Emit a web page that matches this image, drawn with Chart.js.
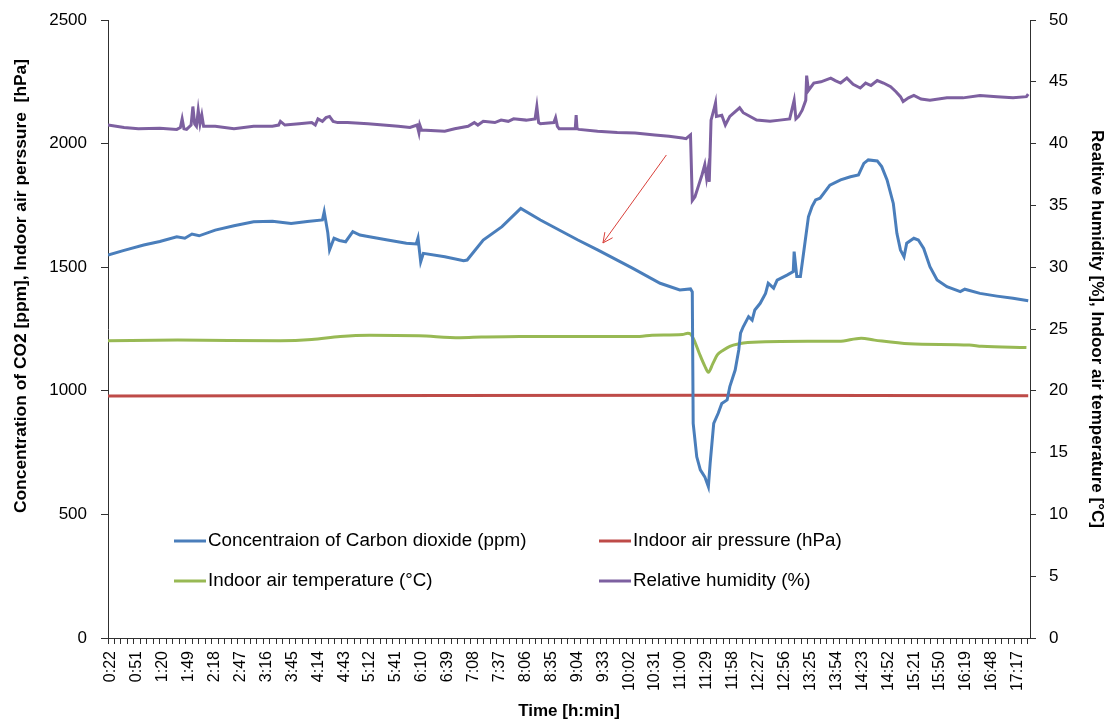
<!DOCTYPE html>
<html><head><meta charset="utf-8">
<script src="https://cdn.jsdelivr.net/npm/chart.js@4.4.1/dist/chart.umd.min.js"></script>
<style>html,body{margin:0;padding:0;background:#fff}#wrap{width:1107px;height:722px}</style>
</head><body><div id="wrap"><canvas id="c" width="1107" height="722"></canvas></div>
<script>
// ---- tick labels (time of day) ----
const tickLabels = ['0:22','0:51','1:20','1:49','2:18','2:47','3:16','3:45','4:14','4:43','5:12','5:41','6:10','6:39','7:08','7:37','8:06','8:35','9:04','9:33','10:02','10:31','11:00','11:29','11:58','12:27','12:56','13:25','13:54','14:23','14:52','15:21','15:50','16:19','16:48','17:17'];

// ---- series (time in minutes since 0:00) ----
const co2Time = [22,40,62,80,99,108,116,124,142,163,185,206,227,245,262,264,268,270,275,281,288,296,304,313,335,356,367,369,372,375,399,420,424,442,463,484,506,548,570,609,640,662,674,676,677,681,685,690,694,696,700,705,709,715,718,724,728,730,733,739,743,746,752,758,761,767,771,782,789,790,793,797,800,806,810,814,819,830,842,853,862,868,873,883,888,894,901,905,909,913,916,924,929,935,942,950,961,976,981,998,1017,1035,1052];
const co2Values = [1549,1568,1590,1604,1623,1617,1634,1627,1650,1668,1684,1686,1677,1685,1691,1724,1640,1570,1617,1608,1603,1644,1630,1624,1610,1597,1594,1618,1522,1556,1542,1526,1529,1610,1664,1738,1691,1610,1570,1496,1435,1408,1412,1400,868,733,680,652,612,707,868,909,949,963,1017,1084,1165,1233,1259,1300,1286,1327,1354,1394,1435,1415,1448,1468,1482,1563,1462,1462,1542,1704,1745,1772,1779,1832,1853,1866,1873,1920,1934,1930,1907,1853,1758,1637,1570,1542,1597,1617,1610,1576,1502,1448,1421,1401,1411,1394,1383,1374,1364];

const pressureTime = [22,400,700,1052];
const pressureValues = [979,981,982,980];

const tempTime = [22,100,215,250,282,315,370,416,440,483,617,631,665,671,674,678,684,690,694,699,704,711,718,728,738,805,840,865,880,919,986,1000,1050];
const tempValues = [24.05,24.1,24.05,24.15,24.4,24.5,24.45,24.3,24.35,24.4,24.4,24.5,24.55,24.65,24.6,24.1,23.0,22.0,21.5,22.2,22.9,23.3,23.6,23.8,23.9,24.0,24.0,24.25,24.1,23.8,23.7,23.6,23.5];

const rhTime = [22,40,56,80,99,103,105,107,110,115,117,119,121,123,125,127,129,142,163,185,206,213,215,220,236,250,254,257,262,266,270,274,279,290,313,330,347,360,368,370,371,373,399,410,425,432,436,442,455,462,470,476,490,500,502,504,506,521,523,525,527,545,546,547,549,570,592,612,634,650,665,669,674,676,679,683,687,690,692,694,695,697,700,702,703,709,713,718,729,733,748,763,774,785,790,792,795,799,803,804,806,812,820,831,836,842,849,856,864,870,876,883,890,898,904,909,912,918,924,932,942,961,979,998,1017,1035,1050,1052];
const rhValues = [41.5,41.3,41.2,41.25,41.15,41.3,42.0,41.2,41.15,41.5,43.0,41.6,41.4,42.7,41.6,42.3,41.4,41.4,41.2,41.4,41.4,41.5,41.8,41.5,41.6,41.7,41.5,42.0,41.8,42.1,42.2,41.8,41.7,41.7,41.6,41.5,41.4,41.3,41.5,40.9,41.5,41.1,41.0,41.2,41.4,41.7,41.5,41.8,41.7,41.9,41.8,42.0,41.9,42.0,43.0,41.7,41.6,41.7,42.1,41.4,41.2,41.2,42.3,41.2,41.15,41.0,40.9,40.85,40.7,40.6,40.45,40.4,40.7,35.4,35.7,36.6,37.5,38.3,37.2,38.1,36.9,41.9,42.7,43.3,42.2,42.3,41.5,42.2,42.9,42.5,41.9,41.8,41.9,42.0,43.5,42.0,42.2,42.7,43.5,45.5,44.3,44.9,45.0,45.3,45.1,44.9,45.3,44.8,44.5,44.9,44.7,45.1,44.9,44.6,44.2,43.8,43.4,43.7,43.9,43.6,43.5,43.7,43.7,43.9,43.8,43.7,43.8,44.0];

// annotation arrow (time in minutes, left-axis value)
const arrowFrom = {time: 647, value: 1954};
const arrowTo = {time: 576, value: 1598};

const FONT = "'Liberation Sans', Arial, sans-serif";
const toMin = s => { const [h, m] = s.split(':').map(Number); return h * 60 + m; };
const labelMinutes = tickLabels.map(toMin);
const labelMap = new Map(labelMinutes.map((m, i) => [m, tickLabels[i]]));
const X_MIN = labelMinutes[0], X_MAX = 1054;
const zip = (t, v) => t.map((x, i) => ({x, y: v[i]}));

Chart.defaults.font.family = FONT;
Chart.defaults.color = '#000';

const legendPlugin = {
  id: 'insideLegend',
  afterDraw(chart) {
    const ctx = chart.ctx;
    const pos = [[174, 541], [599, 541], [174, 581], [599, 581]];
    ctx.save();
    ctx.font = '18.8px ' + FONT;
    ctx.textBaseline = 'middle';
    ctx.textAlign = 'left';
    chart.data.datasets.forEach((ds, i) => {
      const [x, y] = pos[i];
      ctx.strokeStyle = ds.borderColor;
      ctx.lineWidth = 3;
      ctx.beginPath(); ctx.moveTo(x, y); ctx.lineTo(x + 32, y); ctx.stroke();
      ctx.fillStyle = '#000';
      ctx.fillText(ds.label, x + 34, y);
    });
    ctx.restore();
  }
};

const titlePlugin = {
  id: 'leftTitle',
  afterDraw(chart) {
    const ctx = chart.ctx;
    ctx.save();
    ctx.translate(21, 286);
    ctx.rotate(-Math.PI / 2);
    ctx.font = 'bold 17.4px ' + FONT;
    ctx.textAlign = 'center';
    ctx.textBaseline = 'middle';
    ctx.fillStyle = '#000';
    ctx.fillText('Concentration of CO2 [ppm], Indoor air perssure  [hPa]', 0, 0);
    ctx.restore();
  }
};

const arrowPlugin = {
  id: 'arrow',
  afterDatasetsDraw(chart) {
    const {x, y} = chart.scales;
    const x1 = x.getPixelForValue(arrowFrom.time), y1 = y.getPixelForValue(arrowFrom.value);
    const x2 = x.getPixelForValue(arrowTo.time), y2 = y.getPixelForValue(arrowTo.value);
    const ctx = chart.ctx;
    ctx.save();
    ctx.strokeStyle = '#D9403A';
    ctx.lineWidth = 1;
    ctx.beginPath(); ctx.moveTo(x1, y1); ctx.lineTo(x2, y2); ctx.stroke();
    const a = Math.atan2(y2 - y1, x2 - x1), L = 11, w = 0.45;
    ctx.beginPath();
    ctx.moveTo(x2 - L * Math.cos(a - w), y2 - L * Math.sin(a - w));
    ctx.lineTo(x2, y2);
    ctx.lineTo(x2 - L * Math.cos(a + w), y2 - L * Math.sin(a + w));
    ctx.stroke();
    ctx.restore();
  }
};

const axisColor = '#303030';
const vFit = w => scale => { scale.width = w; scale.paddingTop = 10; scale.paddingBottom = 10; };

new Chart(document.getElementById('c'), {
  type: 'line',
  data: {
    datasets: [
      {label: 'Concentraion of Carbon dioxide (ppm)', data: zip(co2Time, co2Values), borderColor: '#4A7EBB', yAxisID: 'y'},
      {label: 'Indoor air pressure (hPa)', data: zip(pressureTime, pressureValues), borderColor: '#BE4B48', yAxisID: 'y'},
      {label: 'Indoor air temperature (°C)', data: zip(tempTime, tempValues), borderColor: '#98B954', yAxisID: 'y1', cubicInterpolationMode: 'monotone'},
      {label: 'Relative humidity (%)', data: zip(rhTime, rhValues), borderColor: '#7D60A0', yAxisID: 'y1'}
    ]
  },
  options: {
    responsive: false,
    animation: false,
    events: [],
    elements: {point: {radius: 0}, line: {borderWidth: 3, tension: 0, fill: false}},
    layout: {padding: {top: 20, left: 0, right: 0, bottom: 0}},
    plugins: {legend: {display: false}, tooltip: {enabled: false}},
    scales: {
      x: {
        type: 'linear', min: X_MIN, max: X_MAX,
        afterBuildTicks(scale) {
          const t = [];
          for (let v = X_MIN; v <= X_MAX; v += 29 / 4) t.push({value: v});
          scale.ticks = t;
        },
        afterFit(scale) { scale.height = 84; },
        ticks: {
          autoSkip: false, minRotation: 90, maxRotation: 90, padding: 7, labelOffset: 3,
          font: {size: 16}, color: '#000',
          callback: v => labelMap.get(v) ?? ''
        },
        grid: {drawOnChartArea: false, drawTicks: true, tickLength: 6, color: axisColor},
        border: {display: true, color: axisColor, width: 1},
        title: {display: true, text: 'Time [h:min]', font: {size: 17, weight: 'bold'}, color: '#000', padding: {top: 0, bottom: 0}}
      },
      y: {
        position: 'left', min: 0, max: 2500,
        afterFit: vFit(108),
        ticks: {stepSize: 500, padding: 14, font: {size: 17}, color: '#000', callback: v => String(v)},
        grid: {drawOnChartArea: false, drawTicks: true, tickLength: 7, color: axisColor},
        border: {display: true, color: axisColor, width: 1}
      },
      y1: {
        position: 'right', min: 0, max: 50,
        afterFit: vFit(77),
        ticks: {stepSize: 5, padding: 13, font: {size: 17}, color: '#000', callback: v => String(v)},
        grid: {drawOnChartArea: false, drawTicks: true, tickLength: 6, color: axisColor},
        border: {display: true, color: axisColor, width: 1},
        title: {display: true, text: 'Realtive humidity [%], Indoor air temperature [°C]', font: {size: 17, weight: 'bold'}, color: '#000', padding: {top: 0, bottom: 0}}
      }
    }
  },
  plugins: [legendPlugin, titlePlugin, arrowPlugin]
});
</script></body></html>
